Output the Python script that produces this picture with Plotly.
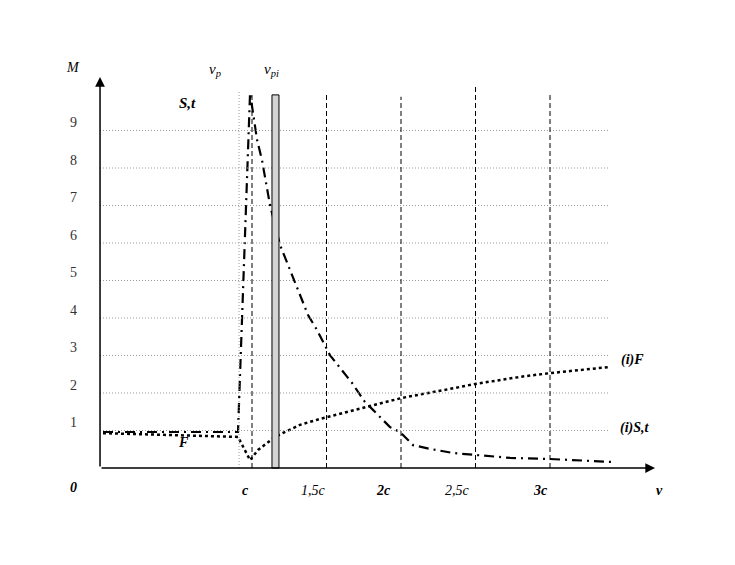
import plotly.graph_objects as go

# datos (v en unidades de c, M adimensional)
st_v = [0.0, 0.906, 0.987, 1.034, 1.067, 1.101, 1.121, 1.188, 1.255, 1.309, 1.376, 1.436,
        1.523, 1.671, 1.758, 1.812, 1.926, 1.993, 2.081, 2.195, 2.349, 2.497, 2.732, 3.0, 3.423]
st_m = [0.96, 0.96, 10.0, 8.75, 8.21, 7.49, 7.01, 5.95, 5.28, 4.75, 4.08, 3.68,
        3.01, 2.27, 1.76, 1.55, 1.09, 0.96, 0.61, 0.51, 0.40, 0.35, 0.27, 0.24, 0.16]

f_v = [0.0, 0.906, 0.987, 1.04, 1.154, 1.322, 1.456, 1.779, 2.007, 2.329, 2.497, 2.799, 3.0, 3.389]
f_m = [0.93, 0.83, 0.21, 0.48, 0.83, 1.15, 1.31, 1.65, 1.87, 2.11, 2.24, 2.43, 2.53, 2.69]

grid_m = [1, 2, 3, 4, 5, 6, 7, 8, 9]
c_lines = [1.0, 1.5, 2.0, 2.5, 3.0]
c_tops = [10.0, 10.0, 9.9, 10.24, 9.95]
c_labels = ["c", "1,5c", "2c", "2,5c", "3c"]
c_bold = [True, False, True, False, True]
v_p = 0.913
v_pi = [1.134, 1.181]
v_pi_top = 9.95

FONT = "Liberation Serif"
x0 = -0.02

fig = go.Figure()

# lineas de rejilla horizontales
for m in grid_m:
    fig.add_shape(type="line", x0=x0, x1=3.40, y0=m, y1=m,
                  line=dict(color="#9a9a9a", width=1, dash="1px,2px"))

# linea de v_p
fig.add_shape(type="line", x0=v_p, x1=v_p, y0=0, y1=10.08,
              line=dict(color="#9a9a9a", width=1, dash="1px,2px"))

# lineas verticales discontinuas en c, 1.5c ...
for v, top in zip(c_lines, c_tops):
    fig.add_shape(type="line", x0=v, x1=v, y0=0, y1=top,
                  line=dict(color="black", width=1, dash="5px,3px"))

# barra v_pi
fig.add_shape(type="rect", x0=v_pi[0], x1=v_pi[1], y0=0, y1=v_pi_top,
              fillcolor="#d4d4d4", line=dict(color="black", width=1))

# curvas
fig.add_trace(go.Scatter(x=st_v, y=st_m, mode="lines", name="S,t",
                         line=dict(color="black", width=2.2, dash="10px,5px,2px,5px")))
fig.add_trace(go.Scatter(x=f_v, y=f_m, mode="lines", name="F",
                         line=dict(color="black", width=2.5, dash="dot")))

# ejes con flecha
fig.add_annotation(x=3.705, y=0, ax=x0, ay=0, xref="x", yref="y", axref="x", ayref="y",
                   text="", showarrow=True, arrowhead=2, arrowsize=1.3, arrowwidth=1.5,
                   arrowcolor="black")
fig.add_annotation(x=x0, y=10.43, ax=x0, ay=0, xref="x", yref="y", axref="x", ayref="y",
                   text="", showarrow=True, arrowhead=2, arrowsize=1.3, arrowwidth=1.5,
                   arrowcolor="black")

# etiquetas eje y
for m in grid_m:
    fig.add_annotation(x=-0.201, y=m, text=str(m), showarrow=False, yshift=8,
                       font=dict(family=FONT, size=14, color="#333"))

# etiquetas eje x
shifts = [-7, -13, -18, -18, -10]
for v, lab, b, s in zip(c_lines, c_labels, c_bold, shifts):
    txt = f"<b><i>{lab}</i></b>" if b else f"<i>{lab}</i>"
    fig.add_annotation(x=v, y=-0.587, text=txt, showarrow=False, xshift=s,
                       font=dict(family=FONT, size=14, color="black"))

textos = [
    (-0.201, -0.533, "<b><i>0</i></b>", 14),
    (3.738, -0.587, "<b><i>v</i></b>", 14),
    (-0.201, 10.69, "<i>M</i>", 14),
    (0.752, 10.61, "<i>v<sub>p</sub></i>", 15),
    (1.134, 10.61, "<i>v<sub>pi</sub></i>", 15),
    (0.564, 9.73, "<b><i>S,t</i></b>", 15),
    (0.537, 0.67, "<b><i>F</i></b>", 14),
    (3.557, 2.88, "<b><i>(i)F</i></b>", 14),
    (3.57, 1.07, "<b><i>(i)S,t</i></b>", 14),
]
for x, y, t, sz in textos:
    fig.add_annotation(x=x, y=y, text=t, showarrow=False,
                       font=dict(family=FONT, size=sz, color="black"))

# el body del html tiene 8px de margen: se compensa en los rangos
fig.update_layout(
    width=735, height=565,
    margin=dict(l=0, r=0, t=0, b=0),
    plot_bgcolor="white", paper_bgcolor="white",
    showlegend=False,
    xaxis=dict(range=[-0.6376, 4.2953], visible=False),
    yaxis=dict(range=[-2.8, 12.267], visible=False),
)

fig.write_html("out.html")
